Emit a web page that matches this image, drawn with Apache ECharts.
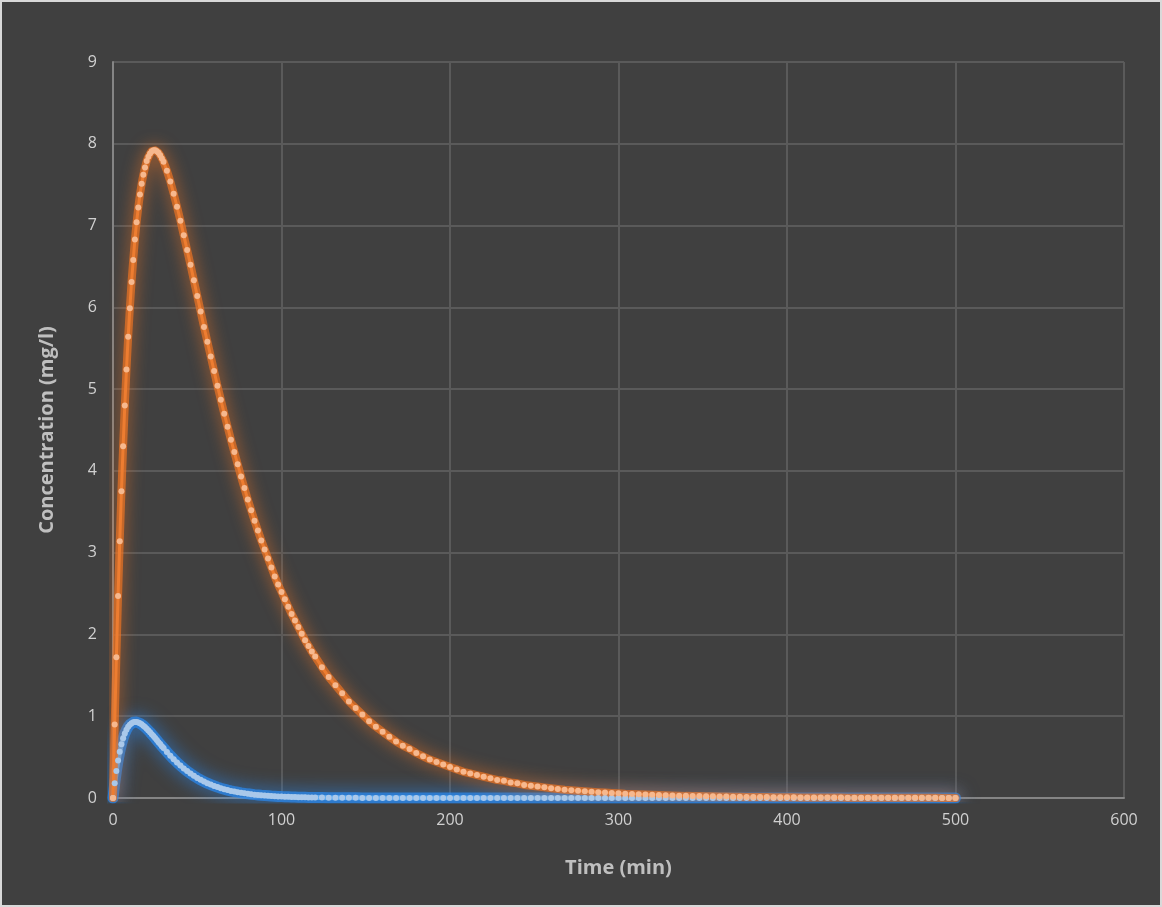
<!DOCTYPE html>
<html>
<head>
<meta charset="utf-8">
<script src="https://cdn.jsdelivr.net/npm/echarts@6/dist/echarts.min.js"></script>
<style>
  html, body { margin: 0; padding: 0; background: #404040; }
  #main { width: 1162px; height: 907px; box-sizing: border-box; border: 2px solid #d9d9d9; }
</style>
</head>
<body>
<div id="main"></div>
<script>
// sample times (min): 1 min steps, then 2, then 4
var timeA = [0,1,2,3,4,5,6,7,8,9,10,11,12,13,14,15,16,17,18,19,20,21,22,23,24,25,26,27,28,29,30];
var timeB = [32,34,36,38,40,42,44,46,48,50,52,54,56,58,60,62,64,66,68,70,72,74,76,78,80,
             82,84,86,88,90,92,94,96,98,100,102,104,106,108,110,112,114,116,118];
var timeC = [120,124,128,132,136,140,144,148,152,156,160,164,168,172,176,180,184,188,192,196,
             200,204,208,212,216,220,224,228,232,236,240,244,248,252,256,260,264,268,272,276,
             280,284,288,292,296,300,304,308,312,316,320,324,328,332,336,340,344,348,352,356,
             360,364,368,372,376,380,384,388,392,396,400,404,408,412,416,420,424,428,432,436,
             440,444,448,452,456,460,464,468,472,476,480,484,488,492,496,500];

// orange series (mg/l)
var orangeA = [0,0.90,1.72,2.47,3.14,3.75,4.30,4.80,5.24,5.64,5.99,6.31,6.58,6.83,7.04,7.22,
               7.38,7.51,7.62,7.71,7.79,7.84,7.88,7.91,7.92,7.92,7.91,7.89,7.86,7.82,7.78];
var orangeB = [7.67,7.54,7.39,7.23,7.06,6.88,6.70,6.52,6.33,6.14,5.95,5.76,5.58,5.40,5.22,
               5.04,4.87,4.70,4.54,4.38,4.23,4.08,3.93,3.79,3.65,3.52,3.39,3.27,3.15,3.04,
               2.93,2.82,2.71,2.61,2.52,2.43,2.34,2.25,2.17,2.09,2.01,1.93,1.86,1.79];
var orangeC = [1.73,1.60,1.48,1.38,1.28,1.18,1.10,1.02,0.94,0.87,0.81,0.75,0.69,0.64,0.60,
               0.55,0.51,0.47,0.44,0.41,0.38,0.35,0.32,0.30,0.28,0.26,0.24,0.22,0.21,0.19,
               0.18,0.16,0.15,0.14,0.13,0.12,0.11,0.10,0.096,0.089,0.083,0.077,0.071,0.066,
               0.061,0.057,0.052,0.049,0.045,0.042,0.039,0.036,0.033,0.031,0.029,0.026,0.025,
               0.023,0.021,0.020,0.018,0.017,0.016,0.014,0.013,0.012,0.011,0.011,0.010,0.009,
               0.008,0.0078,0.0073,0.0067,0.0062,0.0058,0.0054,0.0050,0.0046,0.0043,0.0040,
               0.0037,0.0034,0.0032,0.0029,0.0027,0.0025,0.0023,0.0022,0.0020,0.0019,0.0017,
               0.0016,0.0015,0.0014,0.0013];

// blue series (mg/l)
var blueA = [0,0.179,0.331,0.459,0.567,0.657,0.730,0.789,0.835,0.871,0.897,0.915,0.925,0.930,
             0.928,0.923,0.913,0.901,0.885,0.867,0.847,0.826,0.804,0.781,0.757,0.733,0.708,
             0.683,0.659,0.634,0.610];
var blueB = [0.563,0.518,0.475,0.435,0.397,0.361,0.329,0.299,0.271,0.245,0.222,0.201,0.181,
             0.164,0.148,0.133,0.120,0.108,0.097,0.087,0.079,0.071,0.063,0.057,0.051,0.046,
             0.041,0.037,0.033,0.030,0.027,0.024,0.022,0.019,0.017,0.016,0.014,0.012,0.011,
             0.010,0.009,0.008,0.007,0.006];
var blueC = [0.006,0.005,0.004,0.003,0.002,0.002,0.002,0.001,0.001,0.001,0.001,
             0,0,0,0,0,0,0,0,0,0,0,0,0,0,0,0,0,0,0,0,0,0,0,0,0,0,0,0,0,0,0,0,0,0,0,0,0,0,
             0,0,0,0,0,0,0,0,0,0,0,0,0,0,0,0,0,0,0,0,0,0,0,0,0,0,0,0,0,0,0,0,0,0,0,0,0,0,
             0,0,0,0,0,0,0,0,0];

var times = timeA.concat(timeB, timeC);
var orange = orangeA.concat(orangeB, orangeC);
var blue = blueA.concat(blueB, blueC);

function pairs(xs, ys) {
    var out = [];
    for (var i = 0; i < xs.length; i++) out.push([xs[i], ys[i]]);
    return out;
}

// soft wide line under the real series, for the glow effect
function glow(data, col, width, blur) {
    return {
        type: 'line', data: data, symbol: 'none', silent: true,
        lineStyle: { color: col, width: width, opacity: 0.7, shadowColor: col, shadowBlur: blur, cap: 'round', join: 'round' }
    };
}

var myChart = echarts.init(document.getElementById('main'));
var font = "'Open Sans', 'Noto Sans', sans-serif";
var orangeData = pairs(times, orange);
var blueData = pairs(times, blue);

var option = {
    animation: false,
    backgroundColor: '#404040',
    grid: { left: 111, right: 36, top: 60, bottom: 107 },
    xAxis: {
        type: 'value',
        min: 0, max: 600, interval: 100,
        name: 'Time (min)',
        nameLocation: 'middle',
        nameGap: 60,
        nameTextStyle: { color: '#bfbfbf', fontSize: 20, fontWeight: 'bold', fontFamily: font },
        axisLine: { show: true, lineStyle: { color: '#858585', width: 2 } },
        axisTick: { show: false },
        axisLabel: { color: '#d0d0d0', fontSize: 16, margin: 14, fontFamily: font },
        splitLine: { show: true, lineStyle: { color: '#5a5a5a', width: 2 } }
    },
    yAxis: {
        type: 'value',
        min: 0, max: 9, interval: 1,
        name: 'Concentration (mg/l)',
        nameLocation: 'middle',
        nameGap: 56,
        nameTextStyle: { color: '#bfbfbf', fontSize: 20, fontWeight: 'bold', fontFamily: font },
        axisLine: { show: true, lineStyle: { color: '#858585', width: 2 } },
        axisTick: { show: false },
        axisLabel: { color: '#d0d0d0', fontSize: 16, margin: 16, fontFamily: font },
        splitLine: { show: true, lineStyle: { color: '#5a5a5a', width: 2 } }
    },
    series: [
        glow(blueData, '#2a8af2', 11, 18),
        {
            name: 'blue',
            type: 'line',
            data: blueData,
            symbol: 'circle',
            symbolSize: 6,
            showAllSymbol: true,
            lineStyle: { color: '#5aa8f0', width: 5 },
            itemStyle: { color: '#a9c8ea', borderWidth: 0 }
        },
        glow(orangeData, '#ec7424', 8, 16),
        {
            name: 'orange',
            type: 'line',
            data: orangeData,
            symbol: 'circle',
            symbolSize: 6,
            showAllSymbol: true,
            lineStyle: { color: '#ed7d31', width: 3 },
            itemStyle: { color: '#f6b88e', borderWidth: 0 }
        }
    ]
};
myChart.setOption(option);
</script>
</body>
</html>
